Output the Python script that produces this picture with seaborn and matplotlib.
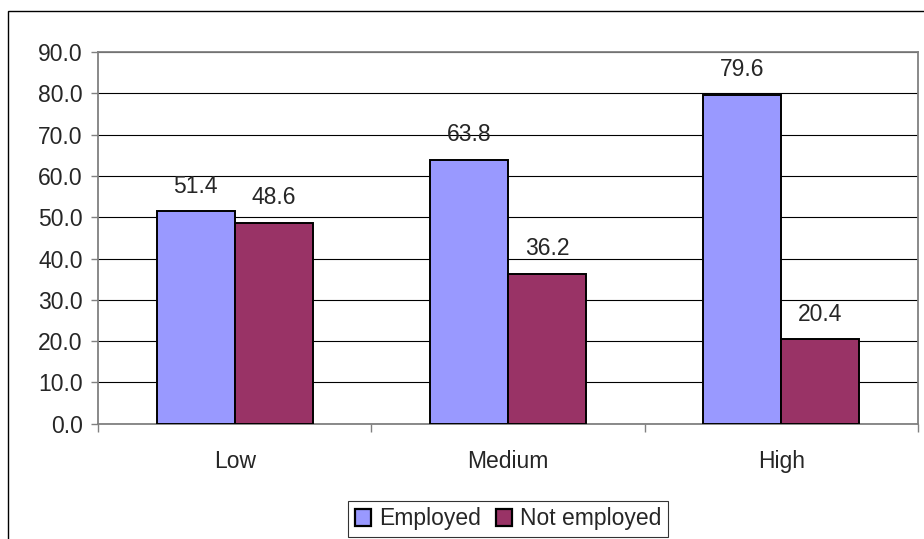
import pandas as pd
import matplotlib
matplotlib.use("Agg")
import matplotlib.pyplot as plt
import seaborn as sns
from matplotlib.patches import Rectangle, Patch

# datos
levels = ["Low", "Medium", "High"]
series = ["Employed", "Not employed"]
employed = [51.4, 63.8, 79.6]
not_employed = [48.6, 36.2, 20.4]
colors = ["#9999FF", "#993366"]

df = pd.DataFrame({
    "level": levels * 2,
    "status": [series[0]] * 3 + [series[1]] * 3,
    "value": employed + not_employed,
})

sns.set_theme(style="white")
plt.rcParams["font.family"] = ["Liberation Sans", "DejaVu Sans"]
FS = 16.5

fig = plt.figure(figsize=(9.24, 5.39), dpi=100)
ax = fig.add_axes([98 / 924, 1 - 423.7 / 539, (918 - 98) / 924, (423.7 - 52) / 539])

# borde exterior del grafico (solo izquierda y arriba visibles)
fig.patches.append(Rectangle((8 / 924, -0.1), 1.2, 1 - 11 / 539 + 0.1,
                             transform=fig.transFigure, fill=False,
                             edgecolor="black", linewidth=1.0))

sns.barplot(data=df, x="level", y="value", hue="status", order=levels,
            hue_order=series, palette=colors, width=0.57, gap=0,
            edgecolor="black", linewidth=1.4, saturation=1, ax=ax,
            legend=False, zorder=3)

for cont in ax.containers:
    ax.bar_label(cont, fmt="%.1f", padding=10, fontsize=FS)

ax.set_xlim(-0.5, 2.5)
ax.set_ylim(0, 90)
ax.set_yticks(range(0, 91, 10))
ax.set_yticklabels([f"{v:.1f}" for v in range(0, 91, 10)])
ax.yaxis.grid(True, color="black", linewidth=0.8)
ax.set_axisbelow(True)

ax.set_xticks([-0.5, 0.5, 1.5, 2.5])
ax.set_xticklabels([])
ax.set_xticks([0, 1, 2], minor=True)
ax.set_xticklabels(levels, minor=True)
ax.tick_params(axis="x", which="major", length=6, color="#808080", width=1, direction="out", bottom=True)
ax.tick_params(axis="x", which="minor", length=0, pad=19, labelsize=FS)
ax.tick_params(axis="y", length=5, color="#808080", width=1, direction="out", left=True, labelsize=FS, pad=6)
ax.set_xlabel("")
ax.set_ylabel("")

for s in ax.spines.values():
    s.set_visible(True)
    s.set_color("#808080")
    s.set_linewidth(1.3)

handles = [Patch(facecolor=c, edgecolor="black", linewidth=1.6) for c in colors]
leg = fig.legend(handles, series, loc="center", bbox_to_anchor=(508 / 924, 1 - 519 / 539),
                 ncol=2, frameon=True, fancybox=False, fontsize=FS,
                 handlelength=0.7, handleheight=0.7, handletextpad=0.35,
                 columnspacing=0.65, borderpad=0.3, borderaxespad=0)
leg.get_frame().set_edgecolor("black")
leg.get_frame().set_linewidth(0.8)

fig.savefig("out.png", dpi=100)
